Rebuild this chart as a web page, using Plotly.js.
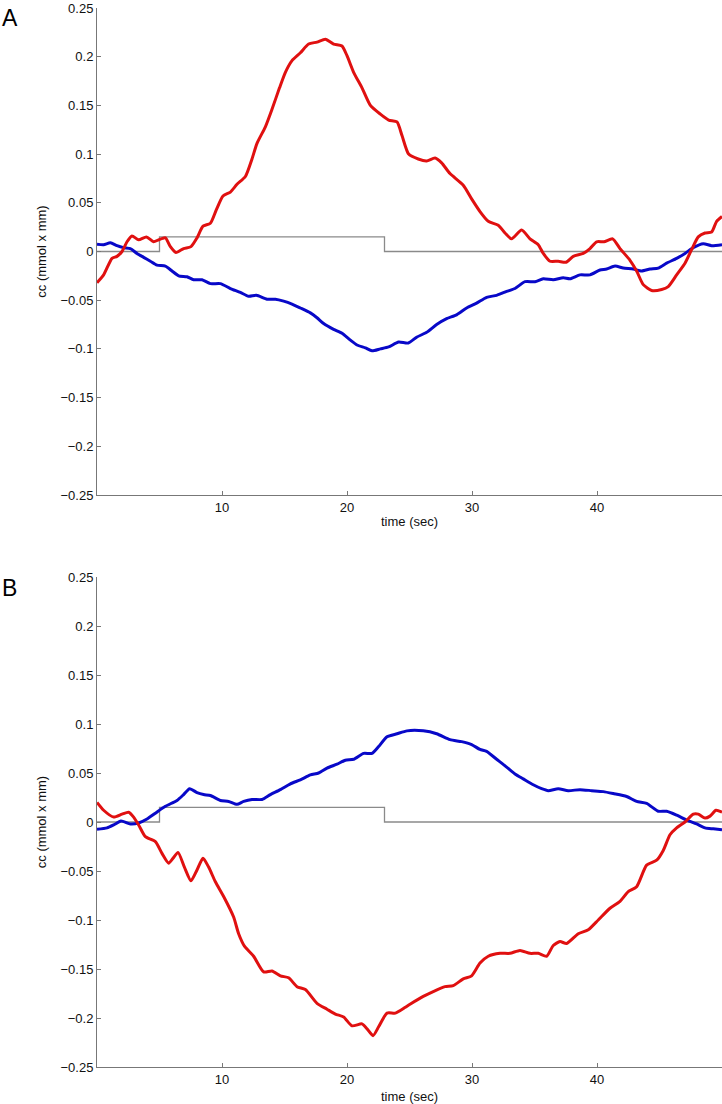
<!DOCTYPE html>
<html>
<head>
<meta charset="utf-8">
<script src="https://cdn.plot.ly/plotly-3.0.1.min.js"></script>
<style>html,body{margin:0;padding:0;background:#fff;}#chart{width:722px;height:1104px;}</style>
</head>
<body>
<div id="chart"></div>
<script>
// ---------- Panel A ----------
const tA_red = [0,0.53,1.2,1.6,2.0,2.4,2.8,3.33,3.95,4.53,4.93,5.47,5.87,6.32,6.93,7.52,8.0,8.48,9.07,9.55,10.08,10.67,11.2,11.87,12.4,12.8,13.47,14.0,14.6,15.07,15.6,16.27,16.93,17.6,18.27,18.93,19.6,20.0,20.53,21.2,21.87,22.67,23.33,24.0,24.4,24.93,25.7,26.37,27.04,27.57,28.24,29.3,29.97,30.64,31.3,32.1,32.64,33.17,33.97,34.64,35.3,35.7,36.24,36.9,37.52,38.1,38.9,39.44,39.97,40.56,41.25,41.84,42.64,43.17,43.7,44.37,45.17,45.7,46.37,47.04,47.57,48.1,48.64,49.17,49.57,50.0];
const cA_red = [-0.032,-0.024,-0.007,-0.005,0,0.010,0.016,0.012,0.015,0.010,0.012,0.014,0.005,-0.001,0.003,0.005,0.014,0.026,0.029,0.043,0.057,0.061,0.069,0.077,0.095,0.111,0.128,0.146,0.168,0.184,0.196,0.204,0.213,0.215,0.218,0.213,0.211,0.201,0.184,0.168,0.150,0.141,0.135,0.133,0.119,0.100,0.095,0.093,0.096,0.091,0.080,0.068,0.054,0.041,0.031,0.027,0.019,0.013,0.022,0.013,0.007,-0.002,-0.010,-0.010,-0.011,-0.005,-0.002,0.003,0.010,0.010,0.013,0.003,-0.009,-0.020,-0.034,-0.040,-0.039,-0.036,-0.024,-0.012,0.002,0.015,0.019,0.020,0.031,0.036];

const tA_blue = [0,0.53,1.07,1.6,2.13,2.67,3.2,3.73,4.27,4.8,5.47,6.0,6.53,7.2,7.73,8.4,9.07,9.87,10.67,11.47,12.13,12.75,13.6,14.27,14.93,15.6,16.27,17.07,17.6,18.13,18.93,19.6,20.27,20.8,21.47,22.0,22.67,23.33,24.13,24.9,25.57,26.37,27.17,27.97,28.77,29.57,30.37,31.17,31.97,32.77,33.44,34.24,35.04,35.7,36.5,37.3,37.84,38.64,39.44,40.24,40.77,41.44,42.1,42.9,43.57,44.24,44.9,45.57,46.37,47.04,47.7,48.5,49.17,50.0];
const cA_blue = [0.0075,0.007,0.009,0.006,0.004,0.003,-0.002,-0.006,-0.010,-0.014,-0.015,-0.020,-0.025,-0.026,-0.029,-0.029,-0.033,-0.033,-0.038,-0.042,-0.046,-0.045,-0.049,-0.049,-0.051,-0.054,-0.058,-0.063,-0.068,-0.074,-0.080,-0.084,-0.091,-0.096,-0.099,-0.102,-0.100,-0.098,-0.093,-0.094,-0.088,-0.083,-0.075,-0.069,-0.065,-0.058,-0.053,-0.047,-0.045,-0.041,-0.038,-0.031,-0.031,-0.028,-0.029,-0.027,-0.028,-0.024,-0.024,-0.019,-0.018,-0.015,-0.017,-0.018,-0.020,-0.018,-0.017,-0.012,-0.007,-0.002,0.004,0.008,0.006,0.007];

// ---------- Panel B ----------
const tB_red = [0,0.53,1.33,2.0,2.53,2.93,3.33,3.87,4.67,5.2,5.73,6.08,6.48,6.99,7.52,8.0,8.48,8.93,9.47,10.13,10.93,11.33,11.81,12.53,13.33,14.0,14.67,15.33,16.0,16.67,17.6,18.4,19.07,19.73,20.4,21.2,21.6,22.08,22.53,23.2,23.87,24.67,25.04,26.1,26.9,27.84,28.5,29.3,29.97,30.64,31.3,32.24,33.04,33.84,34.64,35.3,35.97,36.5,37.04,37.57,38.5,39.3,40.1,41.04,41.84,42.5,43.17,43.97,44.77,45.3,45.84,46.37,47.04,47.7,48.1,48.64,49.04,49.52,50.0];
const cB_red = [0.020,0.012,0.005,0.008,0.010,0.005,-0.003,-0.015,-0.020,-0.032,-0.042,-0.037,-0.031,-0.046,-0.060,-0.049,-0.037,-0.046,-0.061,-0.076,-0.097,-0.114,-0.127,-0.137,-0.153,-0.152,-0.157,-0.159,-0.168,-0.171,-0.185,-0.191,-0.196,-0.199,-0.208,-0.206,-0.211,-0.218,-0.209,-0.195,-0.195,-0.189,-0.186,-0.178,-0.173,-0.168,-0.167,-0.160,-0.157,-0.144,-0.137,-0.134,-0.134,-0.131,-0.134,-0.134,-0.137,-0.126,-0.122,-0.124,-0.114,-0.110,-0.100,-0.088,-0.081,-0.071,-0.066,-0.044,-0.039,-0.029,-0.013,-0.006,0.000,0.008,0.008,0.004,0.006,0.012,0.010];

const tB_blue = [0,0.8,1.33,1.92,2.67,3.33,4.0,4.67,5.47,6.4,6.93,7.41,8.0,8.53,9.07,9.87,10.53,11.2,11.73,12.4,13.2,13.87,14.67,15.47,16.27,17.07,17.73,18.4,19.2,19.87,20.53,21.33,22.0,22.53,23.2,24.0,24.8,26.1,27.17,28.24,29.17,29.97,30.64,31.17,31.97,32.77,33.44,34.1,34.9,35.57,36.1,36.9,37.7,38.64,39.57,40.5,41.3,42.37,43.17,43.97,44.9,45.57,46.37,47.17,47.97,48.64,49.3,50.0];
const cB_blue = [-0.0075,-0.006,-0.003,0.001,-0.002,-0.001,0.003,0.009,0.016,0.022,0.028,0.034,0.030,0.028,0.027,0.022,0.021,0.018,0.021,0.023,0.023,0.028,0.033,0.039,0.043,0.048,0.050,0.055,0.059,0.063,0.064,0.070,0.070,0.077,0.087,0.090,0.093,0.093,0.090,0.084,0.082,0.079,0.074,0.072,0.064,0.056,0.049,0.044,0.038,0.034,0.032,0.034,0.032,0.033,0.032,0.031,0.029,0.026,0.021,0.019,0.011,0.011,0.007,0.002,-0.002,-0.006,-0.007,-0.008];

// stimulus step (same in both panels)
const tStim = [0,5,5,23,23,50];
const cStim = [0,0,0.015,0.015,0,0];

const yTickVals = [-0.25,-0.2,-0.15,-0.1,-0.05,0,0.05,0.1,0.15,0.2,0.25];
const yTickText = ['\u22120.25','\u22120.2','\u22120.15','\u22120.1','\u22120.05','0','0.05','0.1','0.15','0.2','0.25'];
const xTickVals = [10,20,30,40];
const xTickText = ['10','20','30','40'];
const panelLabels = ['A','B'];
const xTitle = 'time (sec)';
const yTitle = 'cc (mmol x mm)';

const RED = '#e01010', BLUE = '#0808c8', GRAY = '#8a8a8a';
const FONT = 'Liberation Sans, Arial, Helvetica, sans-serif';

function ln(x, y, color, w, xa, ya, shape) {
  return {x: x, y: y, type: 'scatter', mode: 'lines', xaxis: xa, yaxis: ya,
    line: {color: color, width: w, shape: shape || 'linear', smoothing: 0.6},
    hoverinfo: 'skip', showlegend: false};
}

const data = [
  ln(tStim, cStim, GRAY, 1.3, 'x', 'y'),
  ln(tA_blue, cA_blue, BLUE, 3, 'x', 'y', 'spline'),
  ln(tA_red, cA_red, RED, 3, 'x', 'y', 'spline'),
  ln(tStim, cStim, GRAY, 1.3, 'x2', 'y2'),
  ln(tB_blue, cB_blue, BLUE, 3, 'x2', 'y2', 'spline'),
  ln(tB_red, cB_red, RED, 3, 'x2', 'y2', 'spline')
];

function xax(anchor, standoff) {
  return {anchor: anchor, domain: [0, 1], range: [0, 50], tickmode: 'array',
    tickvals: xTickVals, ticktext: xTickText, ticks: 'inside', ticklen: 4,
    tickcolor: '#777', showline: true, linecolor: '#777', linewidth: 1,
    showgrid: false, zeroline: false, tickfont: {family: FONT, size: 13, color: '#111'},
    title: {text: xTitle, font: {family: FONT, size: 13, color: '#111'}, standoff: standoff}};
}
function yax(anchor, dom) {
  return {anchor: anchor, domain: dom, range: [-0.25, 0.25], tickmode: 'array',
    tickvals: yTickVals, ticktext: yTickText, ticks: 'inside', ticklen: 4,
    tickcolor: '#777', showline: true, linecolor: '#777', linewidth: 1,
    ticklabeloverflow: 'allow',
    showgrid: false, zeroline: false, tickfont: {family: FONT, size: 13, color: '#111'},
    title: {text: yTitle, font: {family: FONT, size: 13, color: '#111'}, standoff: 10}};
}

const TOP = 8, BOT = 37;
const plotW = 722 - 97, plotH = 1104 - TOP - BOT;
function px2paperX(px) { return (px - 97) / plotW; }
function px2paperY(py) { return (1104 - BOT - py) / plotH; }

const layout = {
  width: 722, height: 1104,
  margin: {l: 97, r: 0, t: TOP, b: BOT},
  paper_bgcolor: '#fff', plot_bgcolor: '#fff',
  xaxis: xax('y', 3),
  yaxis: yax('x', [px2paperY(495), 1]),
  xaxis2: xax('y2', 7),
  yaxis2: yax('x2', [0, px2paperY(577)]),
  annotations: [
    {text: panelLabels[0], xref: 'paper', yref: 'paper', x: px2paperX(0), y: px2paperY(18),
     xanchor: 'left', yanchor: 'middle', showarrow: false, font: {family: FONT, size: 23, color: '#000'}},
    {text: panelLabels[1], xref: 'paper', yref: 'paper', x: px2paperX(0), y: px2paperY(588),
     xanchor: 'left', yanchor: 'middle', showarrow: false, font: {family: FONT, size: 23, color: '#000'}}
  ]
};

Plotly.newPlot('chart', data, layout, {staticPlot: true, displayModeBar: false});
</script>
</body>
</html>
